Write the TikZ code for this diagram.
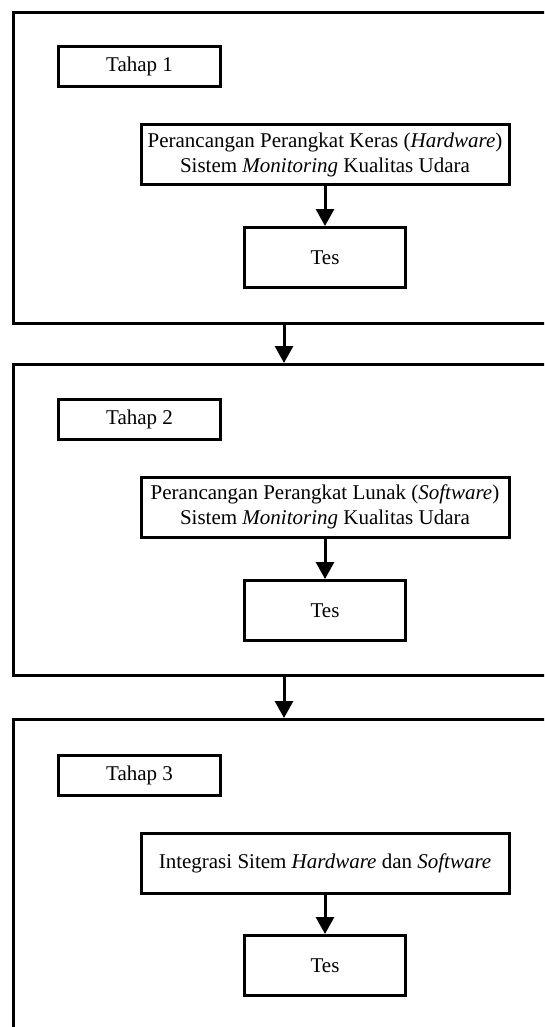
\documentclass[tikz,border=0pt]{standalone}
\usepackage{fontspec}
\setmainfont{Liberation Serif}
\usetikzlibrary{arrows.meta}
\begin{document}
\begin{tikzpicture}[x=1pt, y=-1pt, >={Triangle[length=17pt, width=18pt]},
  frame/.style={draw, line width=3pt, minimum width=541pt, inner sep=0pt},
  box/.style={draw, line width=3pt, align=center, inner sep=0pt, font=\fontsize{21}{25}\selectfont},
  tahap/.style={box, minimum width=162pt, minimum height=40pt},
  proses/.style={box, minimum width=368pt, minimum height=60pt},
  tes/.style={box, minimum width=161pt, minimum height=60pt},
  panah/.style={->, line width=3pt}]
\useasboundingbox (0,0) rectangle (544,1027);
\clip (0,0) rectangle (544,1027);

% tahap 1
\node[frame, minimum height=311pt](f1) at (284,168){};
\node[tahap](t1) at (139.5,66.5){Tahap 1};
\node[proses](p1) at (325,154.5){Perancangan Perangkat Keras (\textit{Hardware})\\Sistem \textit{Monitoring} Kualitas Udara};
\node[tes](s1) at (325,257.5){Tes};
\draw[panah](p1)--(s1);

% tahap 2
\node[frame, minimum height=311pt](f2) at (284,520){};
\node[tahap](t2) at (139.5,419.5){Tahap 2};
\node[proses](p2) at (325,507){Perancangan Perangkat Lunak (\textit{Software})\\Sistem \textit{Monitoring} Kualitas Udara};
\node[tes](s2) at (325,610.5){Tes};
\draw[panah](p2)--(s2);

% tahap 3
\node[frame, minimum height=341pt](f3) at (284,890){};
\node[tahap](t3) at (139.5,775.5){Tahap 3};
\node[proses](p3) at (325,863){Integrasi Sitem \textit{Hardware} dan \textit{Software}};
\node[tes](s3) at (325,965.5){Tes};
\draw[panah](p3)--(s3);

\draw[panah](f1)--(f2);
\draw[panah](f2)--(f3);

\end{tikzpicture}
\end{document}
